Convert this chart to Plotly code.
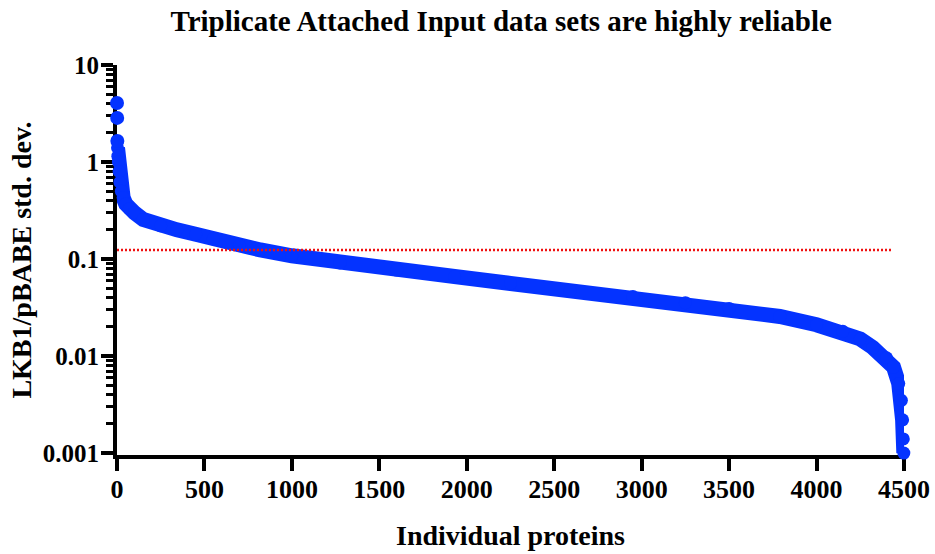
import plotly.graph_objects as go

# Individual proteins ranked by std. dev.
rank = [0, 1, 2, 3, 5, 8, 12, 17, 25, 35, 50, 70, 100, 150, 250, 343, 450, 550,
        700, 820, 1000, 1275, 1600, 1930, 2250, 2590, 2950, 3250, 3500, 3790,
        4000, 4150, 4250, 4322, 4400, 4440, 4470, 4485, 4492, 4496, 4499]
std_dev = [4.06, 2.85, 1.65, 1.4, 1.15, 1.0, 0.8, 0.62, 0.5, 0.43, 0.37, 0.33,
           0.30, 0.256, 0.22, 0.20, 0.18, 0.161, 0.138, 0.124, 0.108, 0.091,
           0.077, 0.066, 0.056, 0.047, 0.041, 0.0355, 0.031, 0.0256, 0.021,
           0.018, 0.015, 0.0122, 0.0096, 0.0077, 0.0052, 0.0035, 0.0022,
           0.0014, 0.001]

threshold = 0.124
threshold_x = [0, 4430]

x_ticks = [0, 500, 1000, 1500, 2000, 2500, 3000, 3500, 4000, 4500]
y_ticks = [0.001, 0.01, 0.1, 1, 10]
y_tick_text = ["0.001", "0.01", "0.1", "1", "10"]

BLUE = "#0433FF"
FONT = "Liberation Serif"

fig = go.Figure()

# thick band of points: lines connect read values, markers sit on them
fig.add_trace(go.Scatter(
    x=rank[3:], y=std_dev[3:], mode="lines+markers",
    line=dict(color=BLUE, width=15),
    marker=dict(color=BLUE, size=13),
    cliponaxis=False, showlegend=False, hoverinfo="x+y"))
fig.add_trace(go.Scatter(
    x=rank[:3], y=std_dev[:3], mode="markers",
    marker=dict(color=BLUE, size=14),
    cliponaxis=False, showlegend=False, hoverinfo="x+y"))

fig.add_trace(go.Scatter(
    x=threshold_x, y=[threshold, threshold], mode="lines",
    line=dict(color="#F01010", width=2.5, dash="2px,2px"),
    cliponaxis=False, showlegend=False, hoverinfo="skip"))

fig.update_layout(
    width=935, height=554,
    margin=dict(l=117, r=31, t=65, b=99, autoexpand=False),
    paper_bgcolor="white", plot_bgcolor="white",
    font=dict(family=FONT, color="black", size=24),
    title=dict(text="<b>Triplicate Attached Input data sets are highly reliable</b>",
               x=0.536, xanchor="center", y=0.963, yanchor="middle",
               font=dict(family=FONT, size=29, color="black")),
    annotations=[
        dict(text="<b>Individual proteins</b>", xref="paper", yref="paper",
             x=0.5, y=-0.206, xanchor="center", yanchor="middle", showarrow=False,
             font=dict(family=FONT, size=28, color="black")),
        dict(text="<b>LKB1/pBABE std. dev.</b>", xref="paper", yref="paper",
             x=-0.1225, y=0.5, xanchor="center", yanchor="middle", showarrow=False,
             textangle=-90, font=dict(family=FONT, size=28, color="black")),
    ],
)

fig.update_xaxes(
    range=[0, 4500], tickmode="array", tickvals=x_ticks,
    ticktext=[f"<b>{v}</b>" for v in x_ticks],
    showline=True, linecolor="black", linewidth=4,
    ticks="outside", ticklen=12, tickwidth=4, tickcolor="black",
    ticklabelstandoff=-4,
    showgrid=False, zeroline=False, layer="below traces", automargin=False,
    tickfont=dict(family=FONT, size=26, color="black"),
)

fig.update_yaxes(
    type="log", range=[-3.02, 1.0], tickmode="array", tickvals=y_ticks,
    ticktext=[f"<b>{t}</b>" for t in y_tick_text],
    showline=True, linecolor="black", linewidth=4,
    ticks="outside", ticklen=12, tickwidth=4, tickcolor="black",
    ticklabelstandoff=-3,
    minor=dict(ticks="outside", ticklen=7, tickwidth=3, tickcolor="black", dtick="D1"),
    showgrid=False, zeroline=False, layer="below traces", automargin=False,
    tickfont=dict(family=FONT, size=25, color="black"),
)

fig.write_html("out.html")
